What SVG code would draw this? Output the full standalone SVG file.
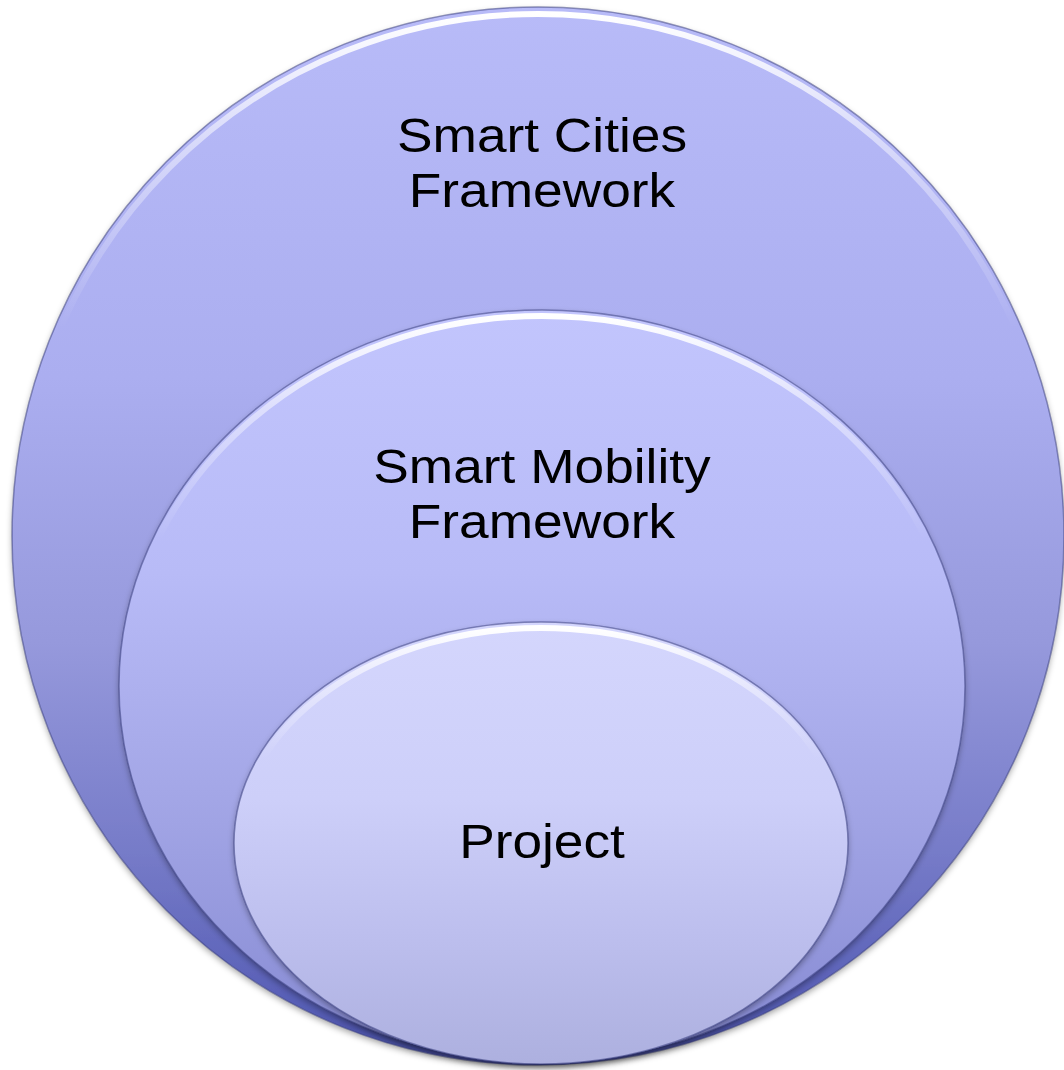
<svg xmlns="http://www.w3.org/2000/svg" width="1064" height="1070" viewBox="0 0 1064 1070">
<style>
.lbl{font-family:"Liberation Sans",Arial,sans-serif;font-size:48px;fill:#000;text-anchor:middle}
.edge{fill:none;stroke:#3a3f80;stroke-opacity:0.55;stroke-width:1.5}
</style>
<defs>
<linearGradient id="gOuter" x1="0" y1="0" x2="0" y2="1">
<stop offset="0" stop-color="#b8bbf8"/>
<stop offset="0.35" stop-color="#abaef0"/>
<stop offset="0.6" stop-color="#9699dc"/>
<stop offset="0.8" stop-color="#767bc8"/>
<stop offset="0.95" stop-color="#565db5"/>
<stop offset="1" stop-color="#454ca2"/>
</linearGradient>
<linearGradient id="gMid" x1="0" y1="0" x2="0" y2="1">
<stop offset="0" stop-color="#c2c5fd"/>
<stop offset="0.35" stop-color="#b8bbf7"/>
<stop offset="0.65" stop-color="#a3a6e6"/>
<stop offset="1" stop-color="#8589d2"/>
</linearGradient>
<linearGradient id="gIn" x1="0" y1="0" x2="0" y2="1">
<stop offset="0" stop-color="#d4d6fd"/>
<stop offset="0.4" stop-color="#cdcff9"/>
<stop offset="0.7" stop-color="#bdbfee"/>
<stop offset="1" stop-color="#adb0df"/>
</linearGradient>
<linearGradient id="gHi" x1="0" y1="0" x2="0" y2="1">
<stop offset="0" stop-color="#ffffff" stop-opacity="1"/>
<stop offset="0.12" stop-color="#ffffff" stop-opacity="0.5"/>
<stop offset="0.3" stop-color="#ffffff" stop-opacity="0"/>
<stop offset="1" stop-color="#ffffff" stop-opacity="0"/>
</linearGradient>
<filter id="sh" x="-5%" y="-5%" width="110%" height="112%">
<feDropShadow dx="0" dy="3" stdDeviation="3" flood-color="#000" flood-opacity="0.35"/>
</filter>
</defs>
<g id="outer">
<ellipse cx="538" cy="536" rx="526" ry="529" fill="url(#gOuter)" filter="url(#sh)"/>
<ellipse cx="538" cy="538" rx="521" ry="524" fill="none" stroke="url(#gHi)" stroke-width="6"/>
<ellipse class="edge" cx="538" cy="536" rx="526" ry="529"/>
<g transform="translate(542 0) scale(1.11 1)">
<text class="lbl" x="0" y="152">Smart Cities</text>
<text class="lbl" x="0" y="207">Framework</text>
</g>
</g>
<g id="middle">
<ellipse cx="542" cy="686" rx="423" ry="376" fill="url(#gMid)" filter="url(#sh)"/>
<ellipse cx="542" cy="688" rx="419" ry="372" fill="none" stroke="url(#gHi)" stroke-width="6"/>
<ellipse class="edge" cx="542" cy="686" rx="423" ry="376"/>
<g transform="translate(542 0) scale(1.11 1)">
<text class="lbl" x="0" y="483">Smart Mobility</text>
<text class="lbl" x="0" y="538">Framework</text>
</g>
</g>
<g id="inner">
<ellipse cx="541" cy="843" rx="307" ry="221" fill="url(#gIn)" filter="url(#sh)"/>
<ellipse cx="541" cy="845" rx="303" ry="217" fill="none" stroke="url(#gHi)" stroke-width="6"/>
<ellipse class="edge" cx="541" cy="843" rx="307" ry="221"/>
<g transform="translate(542 0) scale(1.11 1)">
<text class="lbl" x="0" y="858">Project</text>
</g>
</g>
<g id="connectors"/>
</svg>
